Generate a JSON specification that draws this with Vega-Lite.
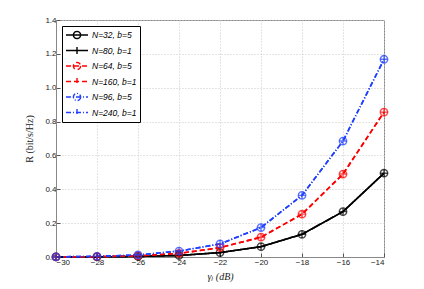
{
  "$schema": "https://vega.github.io/schema/vega-lite/v6.json",
  "width": 328,
  "height": 237,
  "autosize": {"type": "none"},
  "padding": {"left": 56, "top": 20, "right": 40, "bottom": 32},
  "background": "white",
  "config": {
    "view": {"stroke": "#888888", "strokeWidth": 1},
    "axis": {
      "labelFont": "Liberation Sans", "labelFontSize": 8, "labelColor": "#222",
      "titleFont": "Liberation Serif", "titleFontSize": 10, "titleFontWeight": "normal", "titleColor": "#222",
      "domainColor": "#888888", "tickColor": "#555", "tickSize": -4,
      "gridColor": "#c8c8c8", "gridDash": [1, 2], "gridWidth": 1
    }
  },
  "data": {"values": [
    {"s": "N=32, b=5", "g": -30, "r": 0.0003}, {"s": "N=32, b=5", "g": -28, "r": 0.001}, {"s": "N=32, b=5", "g": -26, "r": 0.003}, {"s": "N=32, b=5", "g": -24, "r": 0.009}, {"s": "N=32, b=5", "g": -22, "r": 0.026}, {"s": "N=32, b=5", "g": -20, "r": 0.061}, {"s": "N=32, b=5", "g": -18, "r": 0.134}, {"s": "N=32, b=5", "g": -16, "r": 0.268}, {"s": "N=32, b=5", "g": -14, "r": 0.495},
    {"s": "N=80, b=1", "g": -30, "r": 0.0003}, {"s": "N=80, b=1", "g": -28, "r": 0.001}, {"s": "N=80, b=1", "g": -26, "r": 0.003}, {"s": "N=80, b=1", "g": -24, "r": 0.009}, {"s": "N=80, b=1", "g": -22, "r": 0.026}, {"s": "N=80, b=1", "g": -20, "r": 0.061}, {"s": "N=80, b=1", "g": -18, "r": 0.134}, {"s": "N=80, b=1", "g": -16, "r": 0.268}, {"s": "N=80, b=1", "g": -14, "r": 0.495},
    {"s": "N=64, b=5", "g": -30, "r": 0.0006}, {"s": "N=64, b=5", "g": -28, "r": 0.002}, {"s": "N=64, b=5", "g": -26, "r": 0.007}, {"s": "N=64, b=5", "g": -24, "r": 0.021}, {"s": "N=64, b=5", "g": -22, "r": 0.055}, {"s": "N=64, b=5", "g": -20, "r": 0.117}, {"s": "N=64, b=5", "g": -18, "r": 0.253}, {"s": "N=64, b=5", "g": -16, "r": 0.49}, {"s": "N=64, b=5", "g": -14, "r": 0.856},
    {"s": "N=160, b=1", "g": -30, "r": 0.0006}, {"s": "N=160, b=1", "g": -28, "r": 0.002}, {"s": "N=160, b=1", "g": -26, "r": 0.007}, {"s": "N=160, b=1", "g": -24, "r": 0.021}, {"s": "N=160, b=1", "g": -22, "r": 0.055}, {"s": "N=160, b=1", "g": -20, "r": 0.117}, {"s": "N=160, b=1", "g": -18, "r": 0.253}, {"s": "N=160, b=1", "g": -16, "r": 0.49}, {"s": "N=160, b=1", "g": -14, "r": 0.856},
    {"s": "N=96, b=5", "g": -30, "r": 0.001}, {"s": "N=96, b=5", "g": -28, "r": 0.004}, {"s": "N=96, b=5", "g": -26, "r": 0.012}, {"s": "N=96, b=5", "g": -24, "r": 0.035}, {"s": "N=96, b=5", "g": -22, "r": 0.077}, {"s": "N=96, b=5", "g": -20, "r": 0.174}, {"s": "N=96, b=5", "g": -18, "r": 0.364}, {"s": "N=96, b=5", "g": -16, "r": 0.685}, {"s": "N=96, b=5", "g": -14, "r": 1.168},
    {"s": "N=240, b=1", "g": -30, "r": 0.001}, {"s": "N=240, b=1", "g": -28, "r": 0.004}, {"s": "N=240, b=1", "g": -26, "r": 0.012}, {"s": "N=240, b=1", "g": -24, "r": 0.035}, {"s": "N=240, b=1", "g": -22, "r": 0.077}, {"s": "N=240, b=1", "g": -20, "r": 0.174}, {"s": "N=240, b=1", "g": -18, "r": 0.364}, {"s": "N=240, b=1", "g": -16, "r": 0.685}, {"s": "N=240, b=1", "g": -14, "r": 1.168}
  ]},
  "encoding": {
    "x": {"field": "g", "type": "quantitative",
      "scale": {"domain": [-30, -14], "nice": false},
      "axis": {"values": [-30, -28, -26, -24, -22, -20, -18, -16, -14], "title": "γₗ (dB)", "titleFontStyle": "italic", "labelPadding": 5, "titlePadding": 5}},
    "y": {"field": "r", "type": "quantitative",
      "scale": {"domain": [0, 1.4], "nice": false},
      "axis": {"values": [0, 0.2, 0.4, 0.6, 0.8, 1, 1.2, 1.4], "title": "R (bit/s/Hz)", "labelPadding": 4, "titlePadding": 10}}
  },
  "resolve": {"scale": {"shape": "independent", "stroke": "independent"}, "legend": {"shape": "independent", "stroke": "independent"}},
  "layer": [
    {
      "mark": {"type": "line", "strokeWidth": 1.6},
      "encoding": {
        "color": {"field": "s", "type": "nominal",
          "scale": {"domain": ["N=32, b=5", "N=80, b=1", "N=64, b=5", "N=160, b=1", "N=96, b=5", "N=240, b=1"],
                    "range": ["#000000", "#000000", "#ff0000", "#ff0000", "#2040ff", "#2040ff"]},
          "legend": {
            "title": null, "orient": "top-left", "offset": 6,
            "strokeColor": "#000000", "fillColor": "white", "padding": 3,
            "labelFont": "Liberation Sans", "labelFontSize": 8.5, "labelFontStyle": "italic", "labelColor": "#000",
            "symbolSize": 110, "symbolStrokeWidth": 1.4, "rowPadding": 1.5, "labelOffset": 9, "symbolOffset": 6,
            "encode": {"symbols": {"update": {"shape": {"signal": "indexof(datum.value, 'b=5') >= 0 ? 'M-2.1,0L2.1,0M0.69,0L0.637,0.264L0.488,0.488L0.264,0.637L0,0.69L-0.264,0.637L-0.488,0.488L-0.637,0.264L-0.69,0L-0.637,-0.264L-0.488,-0.488L-0.264,-0.637L0,-0.69L0.264,-0.637L0.488,-0.488L0.637,-0.264Z' : 'M-2.1,0L2.1,0M0,-0.69L0,0.69'"}}}}
          }},
        "strokeDash": {"field": "s", "type": "nominal",
          "scale": {"domain": ["N=32, b=5", "N=80, b=1", "N=64, b=5", "N=160, b=1", "N=96, b=5", "N=240, b=1"],
                    "range": [[1, 0], [1, 0], [5, 3], [5, 3], [5, 2, 1, 2], [5, 2, 1, 2]]}}
      }
    },
    {
      "mark": {"type": "point", "filled": false, "strokeWidth": 1.4},
      "encoding": {
        "stroke": {"field": "s", "type": "nominal",
          "scale": {"domain": ["N=32, b=5", "N=80, b=1", "N=64, b=5", "N=160, b=1", "N=96, b=5", "N=240, b=1"],
                    "range": ["#000000", "#000000", "#ff0000", "#ff0000", "#2040ff", "#2040ff"]},
          "legend": null},
        "shape": {"field": "s", "type": "nominal",
          "scale": {"domain": ["N=32, b=5", "N=80, b=1", "N=64, b=5", "N=160, b=1", "N=96, b=5", "N=240, b=1"],
                    "range": ["circle", "M-1,0L1,0M0,-1L0,1", "circle", "M-1,0L1,0M0,-1L0,1", "circle", "M-1,0L1,0M0,-1L0,1"]},
          "legend": null},
        "size": {"value": 55}
      }
    }
  ]
}
